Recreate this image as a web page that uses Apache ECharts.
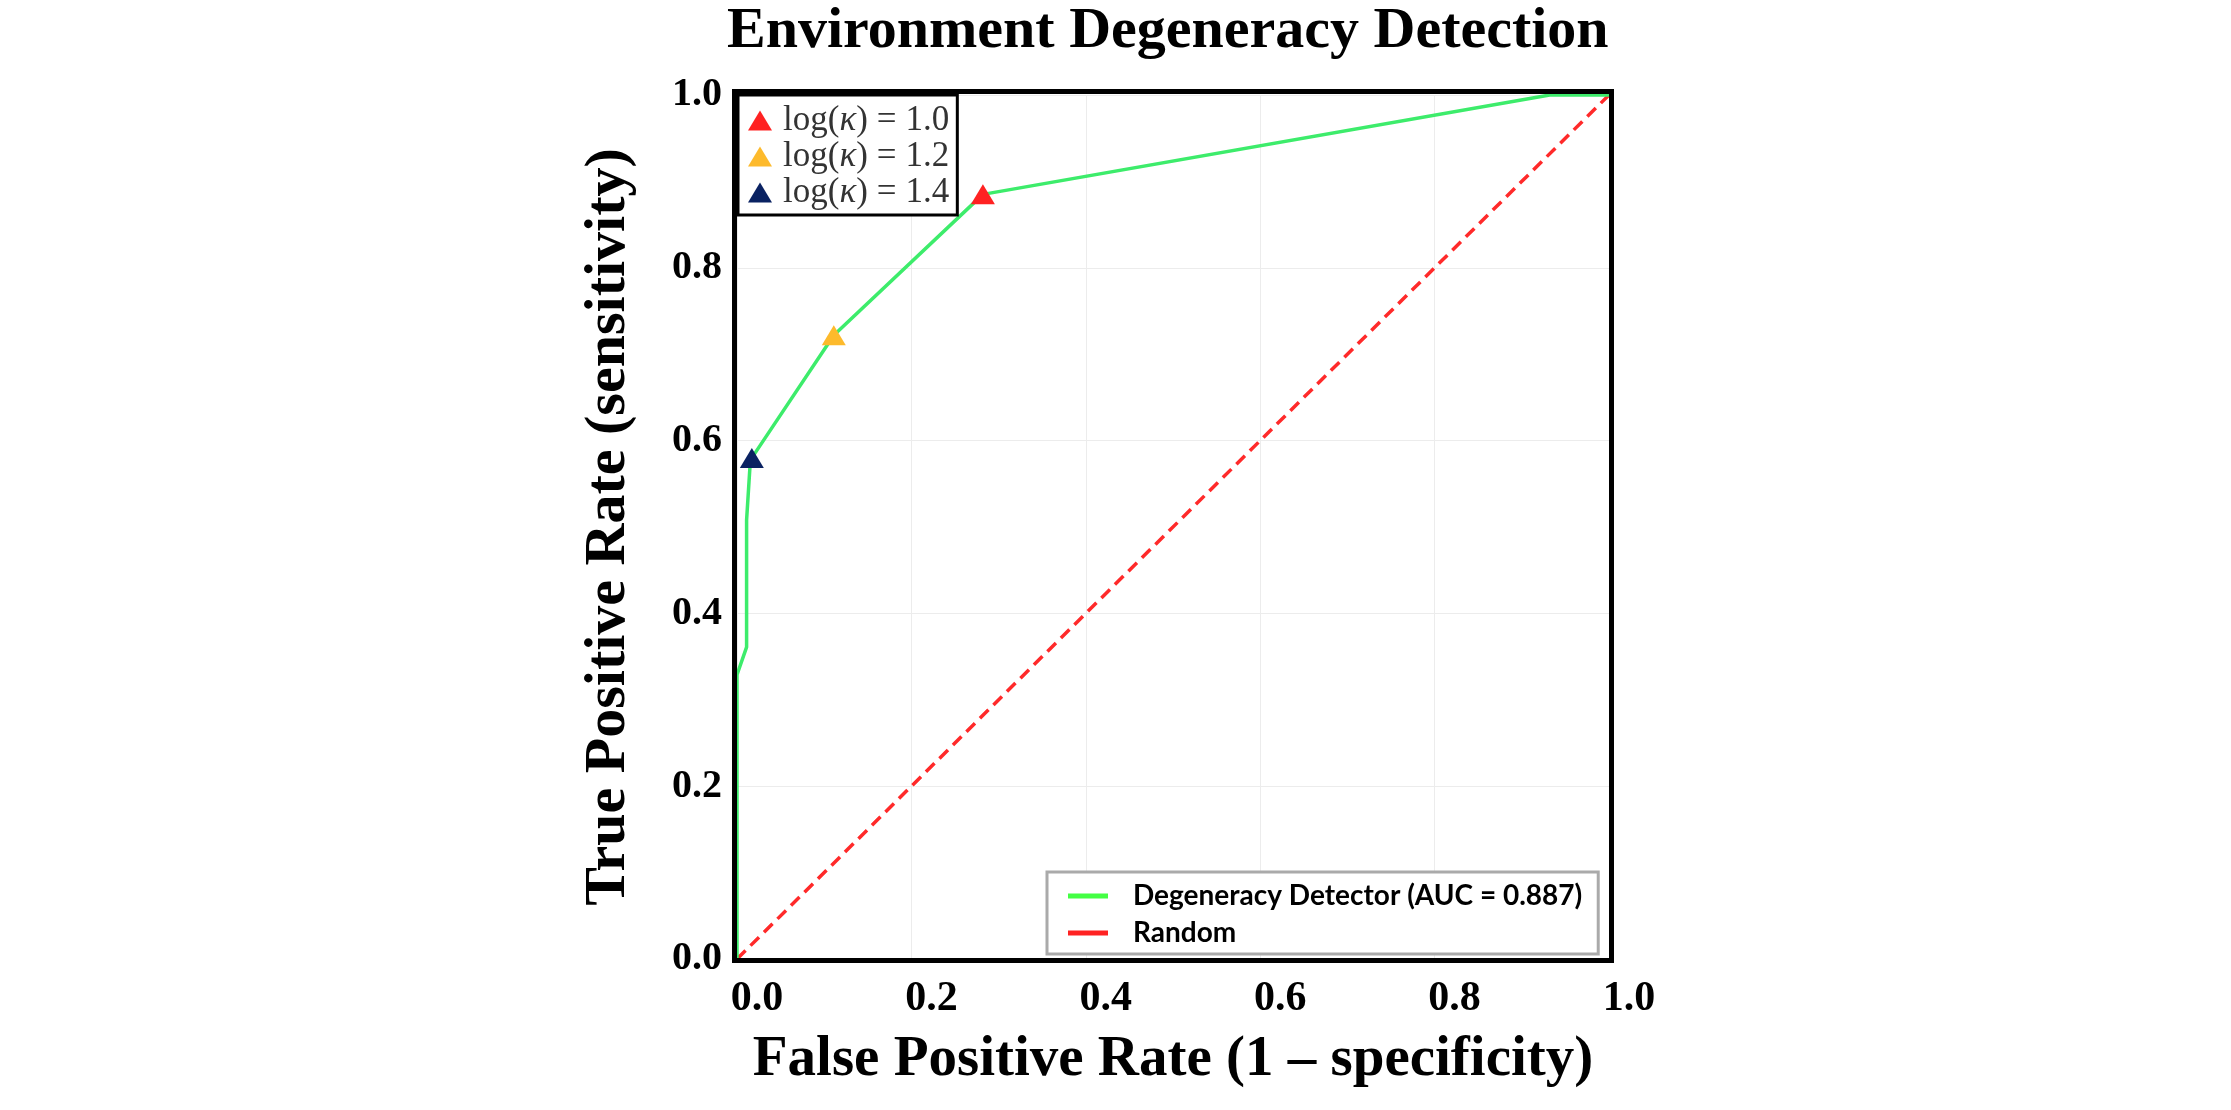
<html>
<head>
  <meta charset="utf-8">
  <title>Environment Degeneracy Detection</title>
  <script src="https://cdn.jsdelivr.net/npm/echarts@6/dist/echarts.min.js"></script>
  <style>
    html, body { margin: 0; padding: 0; background: #fff; }
    #main { width: 2231px; height: 1110px; }
  </style>
</head>
<body>
<div id="main"></div>
<script type="text/javascript">
  // ROC curve
  var fpr = [0.0, 0.0, 0.011, 0.011, 0.015, 0.017, 0.111, 0.282, 0.932, 1.0];
  var tpr = [0.0, 0.329, 0.361, 0.508, 0.572, 0.580, 0.722, 0.885, 1.0, 1.0];
  var randomX = [0, 1];
  var randomY = [0, 1];

  // threshold markers
  var markerNames = ['log(κ) = 1.0', 'log(κ) = 1.2', 'log(κ) = 1.4'];
  var markerX = [0.282, 0.111, 0.017];
  var markerY = [0.885, 0.722, 0.580];
  var markerColors = ['#ff2222', '#fdba2c', '#0a2262'];

  var xTicks = ['0.0', '0.2', '0.4', '0.6', '0.8', '1.0'];
  var yTicks = ['0.0', '0.2', '0.4', '0.6', '0.8', '1.0'];

  var rocName = 'Degeneracy Detector (AUC = 0.887)';
  var randName = 'Random';

  function zip(a, b) {
    var out = [];
    for (var i = 0; i < a.length; i++) out.push([a[i], b[i]]);
    return out;
  }

  var myChart = echarts.init(document.getElementById('main'));

  var series = [
    {
      name: randName,
      type: 'line',
      data: zip(randomX, randomY),
      symbol: 'none',
      lineStyle: { color: '#ff2a2a', width: 3.5, type: [12, 7] },
      itemStyle: { color: '#ff2222' },
      z: 3
    },
    {
      name: rocName,
      type: 'line',
      data: zip(fpr, tpr),
      symbol: 'none',
      lineStyle: { color: '#3dec6b', width: 3.5 },
      itemStyle: { color: '#44ff44' },
      z: 4
    }
  ];
  for (var i = 0; i < markerNames.length; i++) {
    series.push({
      name: markerNames[i],
      type: 'scatter',
      data: [[markerX[i], markerY[i]]],
      symbol: 'triangle',
      symbolSize: [24, 20],
      itemStyle: { color: markerColors[i], opacity: 1 },
      z: 6
    });
  }
  // empty series on the frame grid
  series.push({ type: 'line', data: [], xAxisIndex: 1, yAxisIndex: 1, silent: true });

  var option = {
    backgroundColor: '#fff',
    animation: false,
    title: {
      text: 'Environment Degeneracy Detection',
      left: 727,
      top: 3,
      padding: 0,
      textStyle: { fontFamily: 'Liberation Serif', fontWeight: 'bold', fontSize: 58, color: '#000' }
    },
    grid: [
      { left: 737, top: 95, width: 872, height: 864, show: false },
      { left: 734.5, top: 91.5, width: 877, height: 869, show: true, borderColor: '#000', borderWidth: 5, backgroundColor: 'transparent', z: 10 }
    ],
    xAxis: [
      {
        type: 'value', min: 0, max: 1, interval: 0.2,
        name: 'False Positive Rate (1 – specificity)',
        nameLocation: 'middle', nameGap: 73,
        nameTextStyle: { fontFamily: 'Liberation Serif', fontWeight: 'bold', fontSize: 57, color: '#000' },
        axisLine: { show: false }, axisTick: { show: false },
        splitLine: { show: true, lineStyle: { color: '#ececec', width: 1 } },
        axisLabel: {
          margin: 19, fontFamily: 'Liberation Serif', fontWeight: 'bold', fontSize: 42, color: '#000',
          padding: [0, 0, 0, 40],
          formatter: function (v) { return xTicks[Math.round(v * 5)]; }
        }
      },
      { gridIndex: 1, type: 'value', min: 0, max: 1, show: false }
    ],
    yAxis: [
      {
        type: 'value', min: 0, max: 1, interval: 0.2,
        name: 'True Positive Rate (sensitivity)',
        nameLocation: 'middle', nameGap: 99,
        nameTextStyle: { fontFamily: 'Liberation Serif', fontWeight: 'bold', fontSize: 58, color: '#000' },
        axisLine: { show: false }, axisTick: { show: false },
        splitLine: { show: true, lineStyle: { color: '#ececec', width: 1 } },
        axisLabel: {
          margin: 15, fontFamily: 'Liberation Serif', fontWeight: 'bold', fontSize: 40, color: '#000',
          formatter: function (v) { return yTicks[Math.round(v * 5)]; }
        }
      },
      { gridIndex: 1, type: 'value', min: 0, max: 1, show: false }
    ],
    legend: [
      {
        data: markerNames,
        orient: 'vertical',
        left: 738, top: 95,
        padding: [8, 8, 5, 10],
        itemGap: 1,
        itemWidth: 24, itemHeight: 20,
        backgroundColor: '#fff',
        borderColor: '#000', borderWidth: 3,
        selectedMode: false,
        formatter: function (name) {
          var p = name.split('κ');
          var q = p[1].split('=');
          return '{n|' + p[0] + '}{k|κ}{n|' + q[0].trim() + '}{e|=}{n|' + q[1].trim() + '}';
        },
        textStyle: {
          padding: [0, 0, 0, 6],
          rich: {
            n: { fontFamily: 'Liberation Serif', fontSize: 35, color: '#333', lineHeight: 36 },
            k: { fontFamily: 'Liberation Serif', fontStyle: 'italic', fontSize: 35, color: '#333', lineHeight: 36 },
            e: { fontFamily: 'Liberation Serif', fontSize: 35, color: '#333', lineHeight: 36, padding: [0, 9, 0, 9] }
          }
        },
        z: 12
      },
      {
        data: [
          { name: rocName, icon: 'rect', itemStyle: { color: '#44ff44' } },
          { name: randName, icon: 'rect', itemStyle: { color: '#ff2222' } }
        ],
        orient: 'vertical',
        left: 1047, top: 872,
        padding: [6, 16, 3, 21],
        itemGap: 1,
        itemWidth: 40, itemHeight: 5,
        backgroundColor: '#fff',
        borderColor: '#aaaaaa', borderWidth: 3,
        selectedMode: false,
        textStyle: {
          fontFamily: 'Lato', fontWeight: 'bold', fontSize: 28, color: '#000',
          lineHeight: 36, padding: [0, 0, 0, 20]
        },
        z: 12
      }
    ],
    series: series
  };

  myChart.setOption(option);
</script>
</body>
</html>
